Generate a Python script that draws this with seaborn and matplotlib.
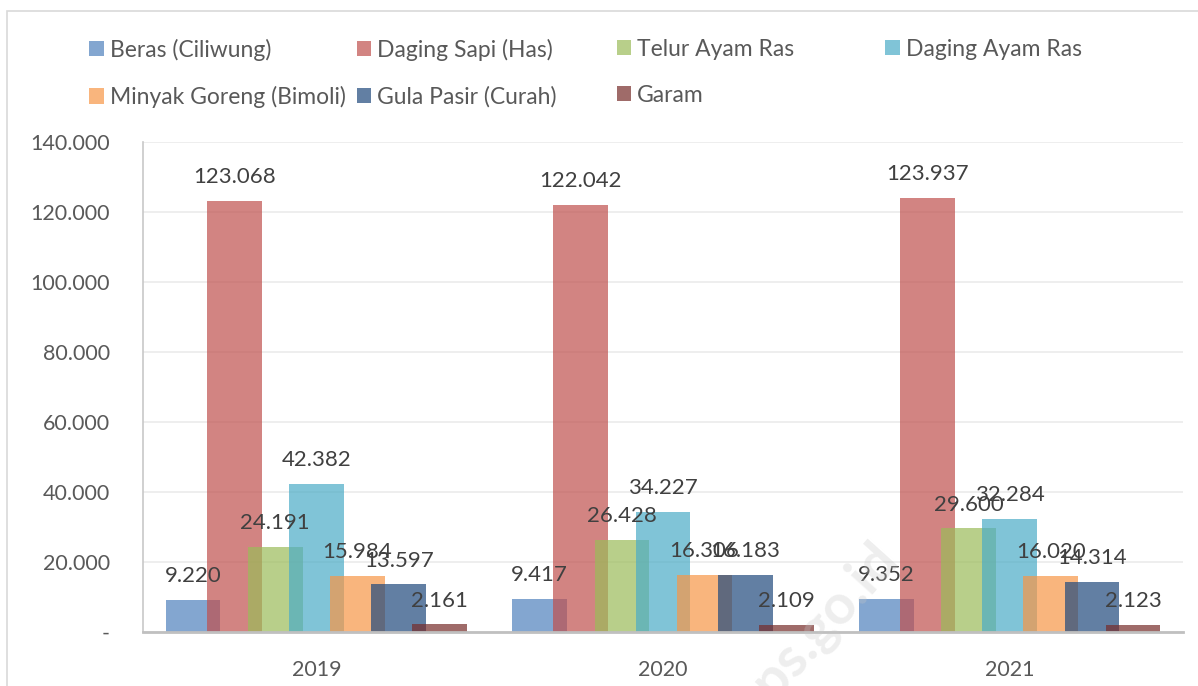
import numpy as np
import pandas as pd
import seaborn as sns
import matplotlib.pyplot as plt
from matplotlib.patches import Patch, Rectangle
from matplotlib.ticker import FuncFormatter

years = ["2019", "2020", "2021"]
items = ["Beras (Ciliwung)", "Daging Sapi (Has)", "Telur Ayam Ras", "Daging Ayam Ras",
         "Minyak Goreng (Bimoli)", "Gula Pasir (Curah)", "Garam"]
beras = [9220, 9417, 9352]
sapi = [123068, 122042, 123937]
telur = [24191, 26428, 29600]
ayam = [42382, 34227, 32284]
minyak = [15984, 16306, 16020]
gula = [13597, 16183, 14314]
garam = [2161, 2109, 2123]
colors = ["#4F81BD", "#C0504D", "#9BBB59", "#4BACC6", "#F79646", "#1F497D", "#772C2A"]

vals = [beras, sapi, telur, ayam, minyak, gula, garam]
df = pd.DataFrame({"Tahun": years * len(items),
                   "Item": np.repeat(items, len(years)),
                   "Harga": np.concatenate(vals)})

sns.set_style("white")
plt.rcParams["font.family"] = ["Lato", "DejaVu Sans"]
txt = "#404040"

fig = plt.figure(figsize=(11.98, 6.86), dpi=100)
ax = fig.add_axes([0.1194, 0.0787, 0.8681, 0.7143])
sns.barplot(data=df, x="Tahun", y="Harga", hue="Item", hue_order=items, order=years,
            palette=colors, width=0.83, alpha=0.7, saturation=1, ax=ax,
            legend=False, errorbar=None)

# widen bars so neighbours overlap like the original
for bars in ax.containers:
    for p in bars:
        c = p.get_x() + p.get_width() / 2
        p.set_width(0.158)
        p.set_x(c - 0.079)
        p.set_linewidth(0)

def fmt(v, pos=None):
    if v == 0:
        return "-"
    return f"{v:,.0f}".replace(",", ".")

for bars in ax.containers:
    for p in bars:
        h = p.get_height()
        ax.annotate(fmt(h), (p.get_x() + p.get_width() / 2, h), xytext=(0, 10),
                    textcoords="offset points", ha="center", va="bottom",
                    fontsize=16, color=txt)

ax.set_ylim(0, 140000)
ax.set_yticks(np.arange(0, 140001, 20000))
ax.yaxis.set_major_formatter(FuncFormatter(fmt))
ax.grid(axis="y", color="#ebebeb", linewidth=1.2)
ax.set_axisbelow(True)
ax.set_xlabel("")
ax.set_ylabel("")
ax.tick_params(axis="both", length=0, labelsize=15.5, colors="#595959")
ax.tick_params(axis="y", pad=24)
ax.tick_params(axis="x", pad=20)
for s in ["top", "right"]:
    ax.spines[s].set_visible(False)
ax.spines["left"].set_color("#c8c8c8")
ax.spines["left"].set_linewidth(1.2)
ax.spines["bottom"].set_color("#c0c0c0")
ax.spines["bottom"].set_linewidth(2)

# legend laid out as a 4-column grid, row by row
handles = [Patch(facecolor=c, alpha=0.7, edgecolor="none") for c in colors]
colx = [0.067, 0.290, 0.507, 0.731]
for i in range(4):
    idx = [j for j in (i, i + 4) if j < len(items)]
    fig.legend([handles[j] for j in idx], [items[j] for j in idx],
               loc="upper left", bbox_to_anchor=(colx[i], 0.957), frameon=False,
               fontsize=16.5, handlelength=0.65, handleheight=0.65, handletextpad=0.25,
               labelspacing=1.1, borderaxespad=0, labelcolor="#595959")

# outer frame of the chart
fig.patches.append(Rectangle((0.006, -0.01), 1.0, 0.994, transform=fig.transFigure,
                             fill=False, edgecolor="#d9d9d9", linewidth=1.2))

fig.text(0.68, 0.08, "bps.go.id", rotation=48, fontsize=40, color="#c8c8c8",
         alpha=0.3, fontweight="bold", ha="center", va="center")

fig.savefig("out.png", dpi=100)
